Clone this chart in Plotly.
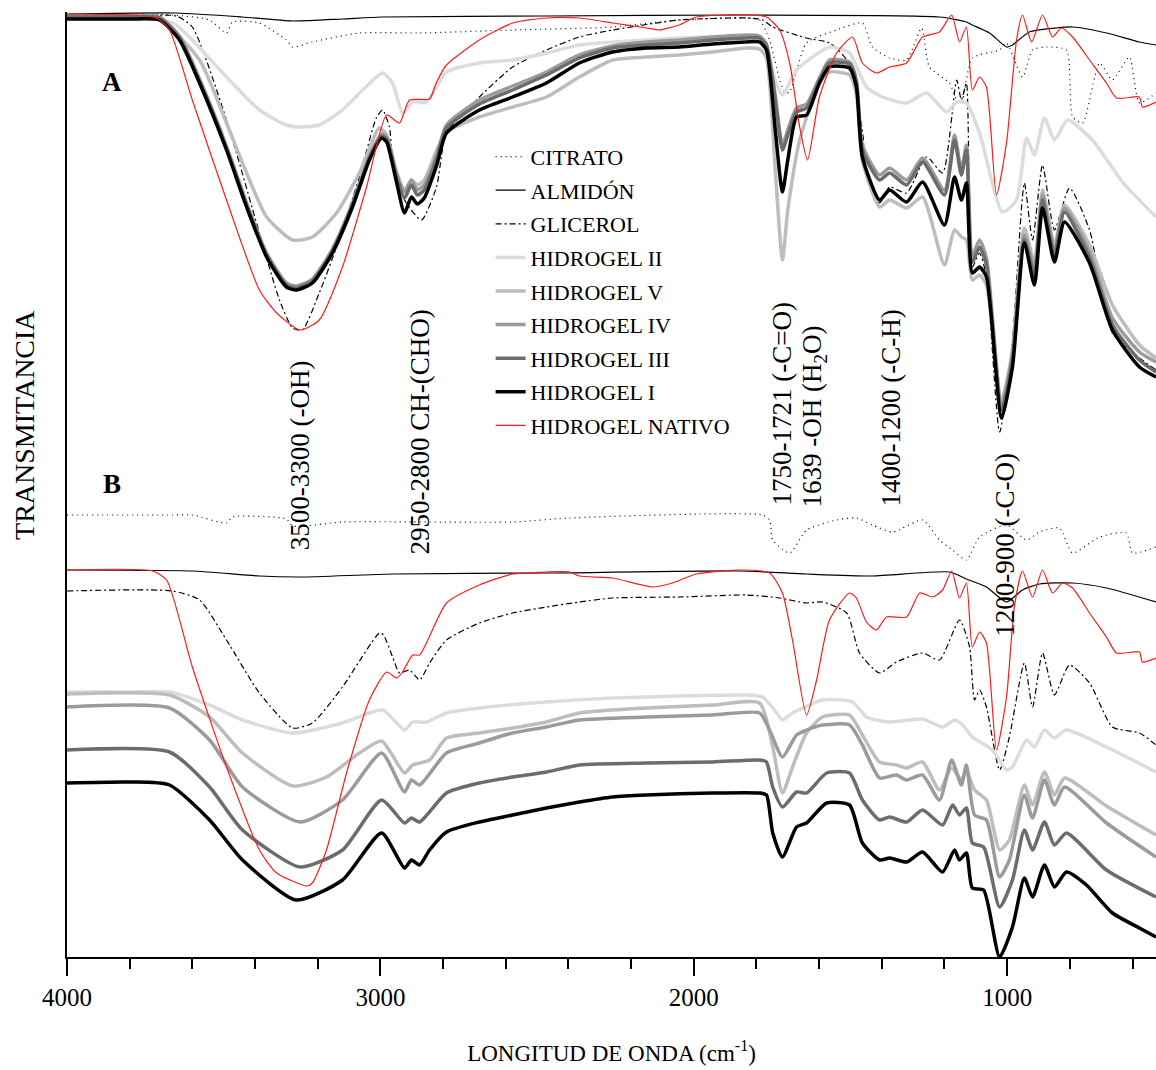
import plotly.graph_objects as go

# ---------------- spectral data (wavenumber in cm-1, transmittance in arbitrary units) ----------------
# Panel A
wn_cit_a = [4000, 3663, 3545, 3491, 3472, 3386, 3300, 3280, 3217, 3067, 2875, 2578, 2259, 2046, 1832, 1790, 1758, 1726, 1708, 1694,
            1640, 1544, 1462, 1430, 1375, 1321, 1273, 1248, 1184, 1161, 1146, 1111, 1024, 1002, 951, 919, 874, 811, 791, 759,
            705, 664, 610, 578, 525]
t_cit_a = [985, 985, 980, 967, 978, 977, 960, 953, 958, 967, 967, 970, 973, 980, 982, 980, 960, 920, 907, 908,
           957, 970, 977, 953, 942, 940, 972, 933, 917, 900, 897, 942, 950, 957, 923, 950, 953, 950, 883, 877,
           937, 920, 943, 897, 907]

wn_alm_a = [4000, 3651, 3440, 3280, 3121, 2996, 2470, 1832, 1216, 1130, 1111, 1056, 1002, 983, 929, 843, 791, 683, 578, 525]
t_alm_a = [986, 987, 983, 979, 981, 983, 984, 985, 983, 978, 975, 967, 953, 955, 968, 972, 973, 967, 958, 955]

wn_gli_a = [4000, 3800, 3651, 3600, 3491, 3386, 3322, 3280, 3249, 3195, 3140, 3067, 3013, 2993, 2971, 2961, 2923, 2869, 2821, 2789,
            2684, 2578, 2470, 2365, 2259, 2046, 1832, 1780, 1748, 1640, 1567, 1512, 1462, 1449, 1407, 1375, 1321, 1257, 1206, 1161,
            1146, 1130, 1111, 1088, 1066, 1024, 983, 945, 919, 887, 849, 801, 737, 664, 525]
t_gli_a = [984, 984, 984, 973, 880, 767, 700, 672, 670, 707, 753, 823, 882, 890, 873, 840, 800, 780, 813, 867,
           903, 933, 950, 963, 970, 980, 982, 980, 973, 962, 957, 940, 870, 827, 797, 813, 807, 843, 827, 920,
           900, 917, 733, 747, 723, 568, 660, 817, 760, 835, 770, 812, 770, 667, 630]

wn_h2_a = [4000, 3800, 3705, 3651, 3600, 3491, 3386, 3300, 3256, 3195, 3121, 3050, 2993, 2961, 2929, 2897, 2853, 2789, 2684, 2578,
           2470, 2365, 2259, 2151, 2046, 1940, 1832, 1790, 1768, 1740, 1717, 1672, 1567, 1503, 1449, 1398, 1321, 1257, 1193, 1161,
           1130, 1088, 1015, 970, 938, 913, 881, 849, 807, 728, 632, 525]
t_h2_a = [982, 982, 981, 975, 960, 923, 890, 875, 873, 875, 890, 912, 927, 917, 887, 898, 898, 928, 937, 940,
          947, 955, 958, 960, 962, 963, 962, 960, 950, 920, 905, 930, 953, 947, 913, 903, 897, 907, 888, 898,
          897, 867, 788, 800, 862, 845, 882, 860, 880, 860, 818, 783]

wn_h5_a = [4000, 3800, 3705, 3577, 3491, 3427, 3363, 3280, 3217, 3140, 3067, 3003, 2980, 2950, 2923, 2901, 2882, 2860, 2820, 2789,
           2684, 2578, 2470, 2365, 2259, 2151, 2046, 1940, 1832, 1790, 1768, 1740, 1717, 1700, 1662, 1599, 1567, 1503, 1481, 1462,
           1407, 1375, 1321, 1270, 1200, 1168, 1146, 1130, 1111, 1088, 1066, 1018, 983, 945, 913, 887, 849, 817, 737, 664,
           578, 525]
t_h5_a = [982, 982, 981, 940, 877, 827, 783, 760, 763, 787, 827, 872, 865, 830, 810, 820, 815, 820, 850, 868,
          883, 893, 903, 923, 940, 943, 945, 948, 952, 951, 942, 830, 740, 790, 860, 917, 928, 925, 905, 840,
          793, 800, 792, 803, 735, 770, 763, 760, 720, 725, 715, 600, 650, 772, 738, 810, 755, 795, 755, 695,
          655, 642]

wn_grp_a = [4000, 3800, 3705, 3641, 3577, 3491, 3427, 3363, 3300, 3268, 3217, 3153, 3089, 3035, 2996, 2980, 2950, 2923, 2901, 2882,
            2860, 2820, 2789, 2684, 2578, 2470, 2365, 2259, 2151, 2046, 1940, 1832, 1790, 1768, 1740, 1717, 1700, 1672, 1640, 1599,
            1567, 1503, 1481, 1462, 1407, 1375, 1321, 1270, 1200, 1168, 1146, 1130, 1111, 1088, 1066, 1018, 983, 945, 913, 887,
            849, 817, 737, 664, 578, 525]
t_h4_a = [984, 984, 983, 964, 921, 854, 797, 747, 717, 714, 721, 751, 797, 844, 866, 863, 828, 808, 820, 810,
          815, 845, 875, 900, 914, 928, 945, 954, 958, 960, 963, 965, 964, 956, 905, 855, 870, 892, 896, 922,
          940, 938, 920, 855, 825, 832, 820, 842, 810, 865, 830, 855, 745, 760, 742, 595, 645, 765, 732, 805,
          750, 792, 748, 682, 648, 638]
t_h3_a = [983, 983, 982, 962, 919, 852, 795, 745, 715, 712, 719, 749, 795, 842, 864, 861, 825, 802, 815, 805,
          810, 842, 872, 896, 910, 925, 942, 952, 955, 957, 960, 962, 962, 954, 900, 850, 865, 888, 892, 920,
          937, 936, 918, 850, 820, 827, 815, 838, 805, 860, 825, 850, 738, 753, 735, 590, 640, 760, 725, 800,
          745, 788, 742, 675, 640, 628]
t_h1_a = [981, 981, 980, 960, 917, 850, 793, 743, 713, 710, 717, 747, 793, 840, 862, 858, 820, 787, 803, 796,
          802, 835, 867, 890, 903, 917, 937, 948, 952, 953, 956, 958, 958, 950, 870, 808, 840, 883, 885, 917,
          933, 932, 913, 843, 800, 810, 798, 818, 775, 823, 800, 817, 727, 733, 723, 582, 633, 757, 715, 792,
          738, 778, 737, 670, 633, 623]

wn_nat_a = [4000, 3714, 3673, 3600, 3491, 3386, 3331, 3256, 3195, 3121, 3044, 2980, 2939, 2907, 2843, 2822, 2789, 2684, 2578, 2470,
            2365, 2259, 2151, 2110, 2046, 1992, 1832, 1768, 1726, 1694, 1662, 1637, 1599, 1544, 1493, 1462, 1417, 1375, 1321, 1270,
            1216, 1177, 1152, 1130, 1111, 1088, 1066, 1034, 1002, 970, 951, 922, 887, 855, 827, 791, 737, 683, 651, 578,
            568, 525]
t_nat_a = [986, 982, 970, 900, 800, 710, 687, 670, 680, 733, 813, 885, 877, 900, 901, 917, 935, 960, 977, 982,
           982, 977, 972, 970, 975, 983, 985, 983, 970, 937, 873, 840, 903, 947, 963, 937, 927, 933, 937, 963,
           968, 985, 958, 973, 910, 923, 913, 805, 857, 960, 985, 958, 985, 963, 972, 963, 940, 917, 902, 903,
           893, 898]

# Panel B
wn_cit_b = [4000, 3663, 3600, 3491, 3472, 3300, 3280, 3121, 2578, 2397, 1780, 1758, 1748, 1694, 1640, 1544, 1481, 1430, 1366, 1270,
            1216, 1174, 1130, 1088, 1002, 938, 897, 833, 791, 705, 620, 600, 525]
t_cit_b = [485, 485, 485, 477, 483, 481, 474, 478, 478, 482, 485, 480, 460, 447, 470, 480, 482, 475, 468, 480,
           460, 450, 440, 463, 475, 460, 468, 472, 447, 463, 467, 447, 453]

wn_alm_b = [4000, 3600, 3386, 3256, 2961, 2470, 1854, 1640, 1430, 1184, 1130, 1066, 1002, 951, 897, 791, 683, 525]
t_alm_b = [430, 429, 424, 423, 426, 427, 429, 426, 424, 428, 421, 413, 398, 410, 416, 417, 412, 398]

wn_gli_b = [4000, 3663, 3577, 3491, 3386, 3280, 3217, 3121, 3003, 2990, 2961, 2939, 2907, 2875, 2843, 2789, 2684, 2578, 2470, 2365,
            2259, 2046, 1832, 1726, 1640, 1589, 1512, 1471, 1407, 1353, 1270, 1216, 1152, 1120, 1104, 1088, 1066, 1024, 993, 945,
            919, 887, 849, 801, 737, 664, 578, 525]
t_gli_b = [409, 409, 400, 360, 307, 272, 277, 313, 367, 365, 343, 327, 330, 320, 337, 360, 377, 387, 393, 398,
           402, 403, 405, 402, 397, 398, 387, 347, 327, 338, 347, 340, 380, 353, 300, 310, 293, 230, 263, 337,
           293, 347, 305, 335, 317, 273, 267, 255]

wn_h2_b = [4000, 3800, 3673, 3545, 3440, 3280, 3121, 2993, 2923, 2897, 2853, 2789, 2684, 2470, 2259, 2046, 1832, 1780, 1735, 1717,
           1685, 1589, 1493, 1449, 1375, 1270, 1206, 1168, 1142, 1111, 1047, 1002, 983, 938, 913, 881, 849, 811, 683, 525]
t_h2_b = [308, 308, 308, 295, 280, 267, 277, 290, 270, 278, 278, 287, 292, 298, 302, 304, 305, 303, 287, 280,
          287, 300, 298, 283, 278, 281, 273, 280, 275, 263, 250, 230, 233, 260, 253, 270, 262, 270, 253, 228]

wn_h5_b = [4000, 3673, 3545, 3440, 3280, 3172, 3067, 2996, 2923, 2897, 2843, 2789, 2684, 2578, 2470, 2365, 2151, 1940, 1790, 1748,
           1717, 1685, 1640, 1589, 1503, 1462, 1407, 1353, 1321, 1270, 1216, 1177, 1146, 1130, 1104, 1066, 1024, 993, 945, 919,
           881, 849, 817, 683, 525]
t_h5_b = [306, 305, 283, 247, 214, 223, 247, 259, 227, 235, 240, 262, 267, 272, 278, 287, 292, 295, 297, 253,
          207, 233, 267, 283, 285, 265, 238, 235, 232, 238, 210, 232, 220, 230, 210, 200, 150, 160, 215, 195,
          228, 205, 222, 194, 165]

wn_h4_b = [4000, 3673, 3545, 3440, 3256, 3121, 2996, 2923, 2901, 2875, 2789, 2684, 2578, 2470, 2365, 2151, 1940, 1790, 1758, 1717,
           1672, 1640, 1589, 1503, 1462, 1407, 1353, 1321, 1270, 1216, 1177, 1146, 1130, 1104, 1066, 1024, 993, 945, 919, 881,
           849, 817, 683, 525]
t_h4_b = [293, 292, 260, 213, 178, 200, 247, 208, 220, 215, 247, 257, 267, 273, 280, 283, 285, 287, 270, 243,
          265, 270, 275, 275, 255, 222, 225, 220, 225, 200, 240, 215, 235, 185, 180, 123, 140, 205, 182, 220,
          195, 213, 177, 143]

wn_h3_b = [4000, 3673, 3545, 3440, 3256, 3121, 2996, 2923, 2901, 2875, 2789, 2684, 2578, 2470, 2365, 2151, 1940, 1790, 1768, 1748,
           1717, 1672, 1640, 1576, 1503, 1462, 1407, 1375, 1321, 1270, 1206, 1174, 1152, 1130, 1111, 1075, 1024, 983, 945, 919,
           881, 849, 811, 683, 525]
t_h3_b = [250, 248, 213, 170, 133, 150, 200, 177, 182, 178, 207, 217, 223, 228, 235, 237, 238, 240, 238, 213,
          193, 208, 207, 227, 227, 200, 180, 183, 178, 190, 175, 195, 185, 192, 157, 153, 93, 120, 170, 150,
          178, 155, 167, 130, 103]

wn_h1_b = [4000, 3800, 3673, 3545, 3440, 3268, 3121, 2996, 2923, 2901, 2875, 2843, 2789, 2684, 2578, 2470, 2365, 2259, 2151, 1940,
           1790, 1768, 1748, 1717, 1672, 1640, 1576, 1503, 1462, 1407, 1375, 1321, 1270, 1206, 1168, 1152, 1130, 1111, 1075, 1024,
           983, 945, 919, 881, 849, 811, 747, 664, 578, 525]
t_h1_b = [217, 218, 215, 180, 140, 100, 120, 167, 132, 140, 135, 150, 168, 178, 185, 192, 198, 203, 205, 207,
          207, 205, 167, 143, 173, 177, 197, 195, 157, 140, 142, 138, 148, 128, 150, 140, 147, 112, 110, 43,
          73, 122, 103, 135, 113, 128, 115, 87, 72, 63]

wn_nat_b = [4000, 3727, 3682, 3600, 3491, 3386, 3331, 3234, 3217, 3172, 3108, 3035, 2980, 2948, 2929, 2897, 2875, 2789, 2684, 2578,
            2470, 2397, 2365, 2259, 2132, 2068, 1992, 1854, 1758, 1717, 1685, 1640, 1608, 1567, 1503, 1481, 1449, 1417, 1385, 1321,
            1279, 1238, 1206, 1177, 1152, 1130, 1111, 1088, 1066, 1034, 1002, 977, 951, 919, 887, 855, 823, 791, 737, 683,
            651, 578, 568, 525]
t_nat_b = [430, 429, 420, 333, 233, 150, 127, 114, 117, 150, 227, 300, 328, 322, 328, 345, 345, 397, 415, 426,
           428, 428, 424, 422, 413, 417, 426, 430, 427, 407, 360, 285, 320, 380, 407, 402, 378, 370, 383, 383,
           407, 403, 410, 429, 402, 417, 353, 368, 357, 250, 303, 393, 429, 403, 430, 407, 417, 412, 387, 363,
           347, 348, 338, 342]

# band assignments: (wavenumber, transmittance level, text)
band_wn = [3256, 2875, 1720, 1615, 1372, 1008]
band_t = [545, 568, 596, 584, 592, 455]
band_text = ["3500-3300 (-OH)", "2950-2800 CH-(CHO)", "1750-1721 (-C=O)",
             "1639 -OH (H<sub>2</sub>O)", "1400-1200 (-C-H)", "1200-900 (-C-O)"]

# ---------------- styles ----------------
FONT = "Liberation Serif"
styles = {
    "CITRATO": dict(color="#000000", width=1.2, dash="1px,4px"),
    "ALMIDÓN": dict(color="#000000", width=1.2, dash="solid"),
    "GLICEROL": dict(color="#000000", width=1.2, dash="6px,3px,2px,3px"),
    "HIDROGEL II": dict(color="#dcdcdc", width=3.5, dash="solid"),
    "HIDROGEL V": dict(color="#bdbdbd", width=3.5, dash="solid"),
    "HIDROGEL IV": dict(color="#9b9b9b", width=3.5, dash="solid"),
    "HIDROGEL III": dict(color="#6c6c6c", width=3.5, dash="solid"),
    "HIDROGEL I": dict(color="#000000", width=3.5, dash="solid"),
    "HIDROGEL NATIVO": dict(color="#ff1a1a", width=1.2, dash="solid"),
}

panel_a = [
    ("CITRATO", wn_cit_a, t_cit_a),
    ("ALMIDÓN", wn_alm_a, t_alm_a),
    ("GLICEROL", wn_gli_a, t_gli_a),
    ("HIDROGEL II", wn_h2_a, t_h2_a),
    ("HIDROGEL V", wn_h5_a, t_h5_a),
    ("HIDROGEL IV", wn_grp_a, t_h4_a),
    ("HIDROGEL III", wn_grp_a, t_h3_a),
    ("HIDROGEL I", wn_grp_a, t_h1_a),
    ("HIDROGEL NATIVO", wn_nat_a, t_nat_a),
]
panel_b = [
    ("CITRATO", wn_cit_b, t_cit_b),
    ("ALMIDÓN", wn_alm_b, t_alm_b),
    ("GLICEROL", wn_gli_b, t_gli_b),
    ("HIDROGEL II", wn_h2_b, t_h2_b),
    ("HIDROGEL V", wn_h5_b, t_h5_b),
    ("HIDROGEL IV", wn_h4_b, t_h4_b),
    ("HIDROGEL III", wn_h3_b, t_h3_b),
    ("HIDROGEL I", wn_h1_b, t_h1_b),
    ("HIDROGEL NATIVO", wn_nat_b, t_nat_b),
]

fig = go.Figure()

for panel, show in ((panel_a, True), (panel_b, False)):
    for name, wn, t in panel:
        st = styles[name]
        fig.add_trace(go.Scatter(
            x=wn, y=t, mode="lines", name=name, legendgroup=name, showlegend=show,
            line=dict(color=st["color"], width=st["width"], dash=st["dash"],
                      shape="spline", smoothing=0.6),
            hoverinfo="skip",
        ))

for wn, t, txt in zip(band_wn, band_t, band_text):
    fig.add_annotation(x=wn, y=t, xref="x", yref="y", text=txt, textangle=-90,
                       showarrow=False, font=dict(family=FONT, size=27, color="black"))

fig.add_annotation(x=3855, y=918, xref="x", yref="y", text="<b>A</b>", showarrow=False,
                   font=dict(family=FONT, size=27, color="black"))
fig.add_annotation(x=3858, y=516, xref="x", yref="y", text="<b>B</b>", showarrow=False,
                   font=dict(family=FONT, size=27, color="black"))

# vertical axis title, placed a little above the plot centre
fig.add_annotation(x=0, y=0.563, xref="paper", yref="paper", xanchor="center", yanchor="middle",
                   xshift=-42, text="TRANSMITANCIA", textangle=-90, showarrow=False,
                   font=dict(family=FONT, size=28, color="black"))

fig.update_layout(
    width=1156, height=1070,
    margin=dict(l=67, r=0, t=12, b=113),
    paper_bgcolor="white", plot_bgcolor="white",
    font=dict(family=FONT, color="black"),
    legend=dict(x=0.389, y=0.869, xanchor="left", yanchor="top",
                bgcolor="rgba(0,0,0,0)", borderwidth=0,
                font=dict(family=FONT, size=22, color="black"),
                traceorder="grouped", tracegroupgap=2),
    showlegend=True,
)

fig.update_xaxes(
    range=[4000, 525], tickvals=[4000, 3000, 2000, 1000], ticktext=["4000", "3000", "2000", "1000"],
    showline=True, linecolor="black", linewidth=2, mirror=False,
    ticks="outside", ticklen=17, tickwidth=2, tickcolor="black",
    minor=dict(dtick=200, ticks="outside", ticklen=10, tickwidth=2, tickcolor="black", showgrid=False),
    showgrid=False, zeroline=False,
    tickfont=dict(family=FONT, size=25, color="black"),
    title=dict(text="LONGITUD DE ONDA (cm<sup>-1</sup>)", standoff=35,
               font=dict(family=FONT, size=23, color="black")),
)
fig.update_yaxes(
    range=[43, 988], showticklabels=False, ticks="",
    showline=True, linecolor="black", linewidth=2,
    showgrid=False, zeroline=False,
)

fig.write_html("out.html")
